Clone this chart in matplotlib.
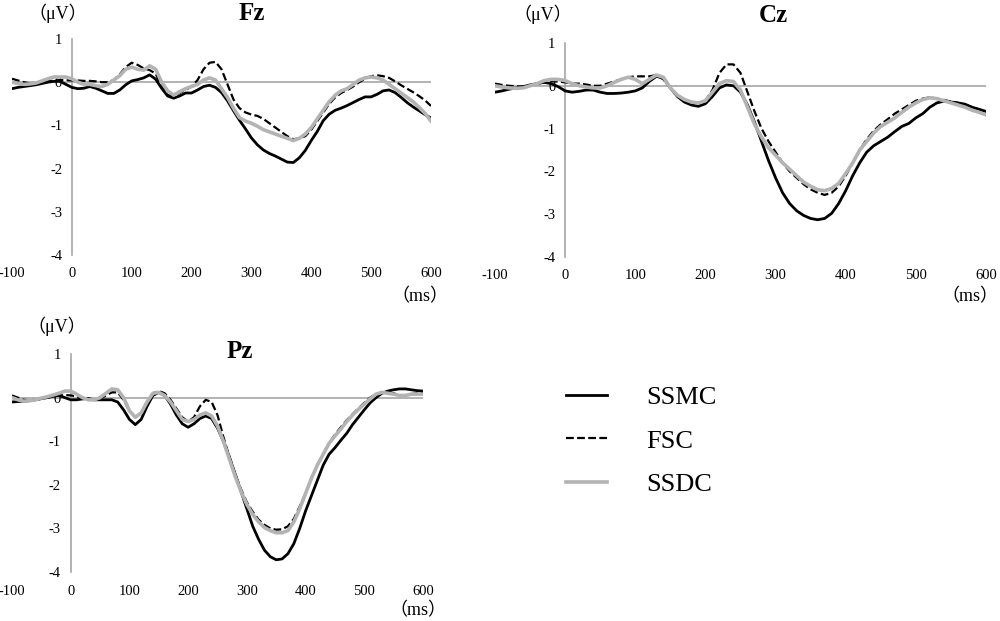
import matplotlib
matplotlib.use("Agg")
import matplotlib.pyplot as plt

plt.rcParams['font.family'] = ['Liberation Serif', 'Noto Sans CJK JP']
plt.rcParams['axes.unicode_minus'] = False

# time axis (ms), 10 ms steps
t = list(range(-100, 610, 10))

# Fz
fz_ssmc = [-0.15, -0.12, -0.1, -0.08, -0.06, -0.03, 0.0, 0.02, 0.02, -0.05,
           -0.12, -0.15, -0.14, -0.1, -0.14, -0.2, -0.26, -0.26, -0.18, -0.06,
           0.03, 0.06, 0.1, 0.17, 0.07, -0.14, -0.32, -0.37, -0.32, -0.25,
           -0.25, -0.18, -0.1, -0.07, -0.12, -0.24, -0.43, -0.66, -0.88, -1.08,
           -1.29, -1.45, -1.57, -1.65, -1.71, -1.78, -1.85, -1.86, -1.75, -1.58,
           -1.35, -1.14, -0.89, -0.74, -0.65, -0.6, -0.54, -0.47, -0.4, -0.34,
           -0.34, -0.28, -0.2, -0.18, -0.24, -0.35, -0.47, -0.57, -0.66, -0.75,
           -0.83]
fz_fsc = [0.08, 0.04, 0.0, -0.03, -0.03, 0.0, 0.02, 0.04, 0.05, 0.05,
          0.04, 0.04, 0.03, 0.03, 0.02, 0.0, 0.0, 0.05, 0.18, 0.35,
          0.45, 0.4, 0.32, 0.28, 0.2, -0.1, -0.3, -0.32, -0.25, -0.18,
          -0.1, 0.05, 0.3, 0.45, 0.47, 0.3, -0.05, -0.4, -0.6, -0.7,
          -0.75, -0.78, -0.85, -0.95, -1.05, -1.15, -1.25, -1.32, -1.3, -1.25,
          -1.1, -0.9, -0.7, -0.5, -0.35, -0.25, -0.18, -0.1, 0.0, 0.08,
          0.14, 0.16, 0.14, 0.1, 0.02, -0.07, -0.15, -0.23, -0.32, -0.42,
          -0.55]
fz_ssdc = [0.0, -0.03, -0.05, -0.04, -0.02, 0.03, 0.08, 0.12, 0.12, 0.12,
           0.08, 0.0, -0.05, -0.05, -0.08, -0.1, -0.05, 0.05, 0.15, 0.3,
           0.35, 0.3, 0.28, 0.38, 0.3, 0.0, -0.2, -0.3, -0.22, -0.15,
           -0.1, -0.05, 0.05, 0.1, 0.05, -0.15, -0.35, -0.6, -0.82, -0.9,
           -0.95, -1.02, -1.1, -1.15, -1.2, -1.25, -1.3, -1.35, -1.3, -1.2,
           -1.05, -0.85, -0.65, -0.45, -0.3, -0.2, -0.15, -0.05, 0.05, 0.1,
           0.12, 0.1, 0.05, -0.05, -0.15, -0.25, -0.35, -0.45, -0.58, -0.72,
           -0.9]

# Cz
cz_ssmc = [-0.15, -0.12, -0.08, -0.05, -0.02, 0.02, 0.05, 0.08, 0.05, -0.02,
           -0.12, -0.15, -0.13, -0.1, -0.1, -0.15, -0.18, -0.18, -0.17, -0.15,
           -0.12, -0.05, 0.1, 0.22, 0.18, -0.05, -0.25, -0.38, -0.45, -0.48,
           -0.42, -0.25, -0.05, 0.02, 0.0, -0.15, -0.45, -0.85, -1.3, -1.75,
           -2.15, -2.5, -2.75, -2.92, -3.03, -3.1, -3.13, -3.1, -2.98, -2.75,
           -2.45, -2.1, -1.8, -1.55, -1.4, -1.3, -1.2, -1.07, -0.95, -0.88,
           -0.75, -0.65, -0.5, -0.4, -0.36, -0.38, -0.4, -0.43, -0.5, -0.55,
           -0.6]
cz_fsc = [0.05, 0.02, 0.0, -0.01, -0.02, 0.01, 0.05, 0.08, 0.1, 0.1,
          0.08, 0.05, 0.05, 0.03, 0.0, 0.0, 0.05, 0.1, 0.15, 0.2,
          0.22, 0.22, 0.22, 0.25, 0.15, -0.05, -0.22, -0.32, -0.38, -0.4,
          -0.35, -0.1, 0.3, 0.5, 0.5, 0.3, -0.15, -0.6, -1.0, -1.3,
          -1.55, -1.8, -2.0, -2.15, -2.3, -2.42, -2.5, -2.55, -2.5, -2.35,
          -2.1, -1.8, -1.5, -1.25, -1.05, -0.9, -0.78, -0.65, -0.55, -0.45,
          -0.35, -0.3, -0.27, -0.3, -0.33, -0.37, -0.4, -0.45, -0.5, -0.55,
          -0.6]
cz_ssdc = [0.0, -0.03, -0.05, -0.06, -0.05, 0.0, 0.05, 0.12, 0.15, 0.15,
           0.12, 0.05, 0.0, -0.03, -0.05, -0.05, 0.0, 0.08, 0.15, 0.2,
           0.15, 0.05, 0.15, 0.25, 0.2, -0.05, -0.22, -0.32, -0.38, -0.4,
           -0.35, -0.15, 0.05, 0.12, 0.1, -0.1, -0.5, -0.9, -1.2, -1.45,
           -1.62, -1.8, -1.95, -2.1, -2.25, -2.35, -2.43, -2.45, -2.4, -2.28,
           -2.05, -1.8, -1.5, -1.3, -1.1, -0.95, -0.85, -0.75, -0.62, -0.5,
           -0.4, -0.32, -0.28, -0.3, -0.35, -0.4, -0.45, -0.5, -0.57, -0.62,
           -0.68]

# Pz
pz_ssmc = [-0.1, -0.09, -0.08, -0.07, -0.05, -0.02, 0.0, 0.03, 0.05, 0.0,
           -0.05, -0.05, -0.03, -0.02, -0.05, -0.05, -0.05, -0.05, -0.1, -0.28,
           -0.5, -0.62, -0.5, -0.2, 0.05, 0.12, 0.05, -0.15, -0.4, -0.6,
           -0.68, -0.6, -0.48, -0.42, -0.48, -0.7, -1.0, -1.35, -1.75, -2.15,
           -2.55, -2.95, -3.25, -3.5, -3.65, -3.72, -3.7, -3.58, -3.35, -3.0,
           -2.6, -2.25, -1.9, -1.55, -1.3, -1.15, -0.98, -0.82, -0.62, -0.45,
           -0.28, -0.12, 0.0, 0.1, 0.15, 0.18, 0.2, 0.2, 0.18, 0.16,
           0.15]
pz_fsc = [0.05, 0.0, -0.05, -0.06, -0.05, -0.03, 0.0, 0.03, 0.05, 0.06,
          0.05, 0.03, -0.02, -0.05, -0.05, -0.03, 0.05, 0.12, 0.12, -0.05,
          -0.3, -0.45, -0.35, -0.1, 0.1, 0.15, 0.1, -0.05, -0.25, -0.45,
          -0.55, -0.45, -0.2, -0.05, -0.1, -0.4, -0.9, -1.35, -1.75, -2.1,
          -2.4, -2.62, -2.8, -2.92, -3.0, -3.03, -3.02, -2.95, -2.78, -2.5,
          -2.2, -1.85, -1.55, -1.3, -1.05, -0.85, -0.68, -0.52, -0.38, -0.25,
          -0.12, 0.0, 0.08, 0.12, 0.12, 0.1, 0.05, 0.05, 0.08, 0.1,
          0.1]
pz_ssdc = [0.0, -0.05, -0.08, -0.07, -0.05, -0.01, 0.02, 0.06, 0.1, 0.15,
           0.15, 0.08, 0.0, -0.05, -0.05, 0.0, 0.1, 0.2, 0.18, 0.0,
           -0.3, -0.45, -0.35, -0.1, 0.1, 0.12, 0.05, -0.1, -0.3, -0.5,
           -0.55, -0.5, -0.4, -0.35, -0.42, -0.65, -1.0, -1.4, -1.8, -2.15,
           -2.45, -2.68, -2.85, -2.98, -3.05, -3.1, -3.1, -3.05, -2.85, -2.55,
           -2.2, -1.85, -1.55, -1.3, -1.05, -0.88, -0.72, -0.55, -0.4, -0.27,
           -0.15, -0.03, 0.08, 0.12, 0.1, 0.08, 0.05, 0.05, 0.08, 0.08,
           0.08]

conditions = ['SSMC', 'FSC', 'SSDC']
styles = [dict(color='black', lw=2.0, ls='-'),
          dict(color='black', lw=1.6, ls=(0, (3.5, 1.5))),
          dict(color='#b3b3b3', lw=2.6, ls='-')]
xticks = [-100, 0, 100, 200, 300, 400, 500, 600]
yticks = [1, 0, -1, -2, -3, -4]

fig = plt.figure(figsize=(10, 6.21), dpi=100)


def px(x, y):
    # pixel position -> figure fraction
    return x / 1000, 1 - y / 621


def panel(rect, title, series, title_xy, uv_xy, ms_xy):
    ax = fig.add_axes(rect)
    ax.set_xlim(-100, 600)
    ax.set_ylim(-4, 1)
    ax.axhline(0, color='#a6a6a6', lw=1.2, zorder=1)
    for y, st in zip(series, styles):
        ax.plot(t, y, zorder=3, **st)
    for s in ['top', 'right', 'bottom']:
        ax.spines[s].set_visible(False)
    ax.spines['left'].set_position(('data', 0))
    ax.spines['left'].set_color('#a6a6a6')
    ax.spines['left'].set_linewidth(1.2)
    ax.set_xticks(xticks)
    ax.set_yticks(yticks)
    ax.set_xticklabels([str(v) for v in xticks])
    ax.set_yticklabels([str(v) for v in yticks])
    ax.tick_params(length=0, labelsize=10.5)
    ax.tick_params(axis='x', pad=9)
    ax.tick_params(axis='y', pad=7)
    fig.text(*px(*title_xy), title, fontsize=18, fontweight='bold',
             ha='center', va='center')
    fig.text(*px(*uv_xy), '（μV）', fontsize=13, ha='center', va='center')
    fig.text(*px(*ms_xy), '（ms）', fontsize=13, ha='center', va='center')
    return ax


ax1 = panel([0.012, 0.5894, 0.419, 0.3478], 'Fz', [fz_ssmc, fz_fsc, fz_ssdc],
            (252, 13), (58, 13), (420, 297))
ax2 = panel([0.495, 0.5862, 0.491, 0.3446], 'Cz', [cz_ssmc, cz_fsc, cz_ssdc],
            (773, 15), (543, 14), (970, 297))
ax3 = panel([0.012, 0.0789, 0.411, 0.351], 'Pz', [pz_ssmc, pz_fsc, pz_ssdc],
            (240, 352), (57, 326), (418, 611))

handles = ax1.get_lines()[1:]
fig.legend(handles, conditions, loc='center left', bbox_to_anchor=(0.566, 0.29),
           frameon=False, fontsize=19, handlelength=1.55, handletextpad=1.5,
           labelspacing=0.77, borderpad=0, borderaxespad=0)

plt.savefig("out.png")
plt.close()
